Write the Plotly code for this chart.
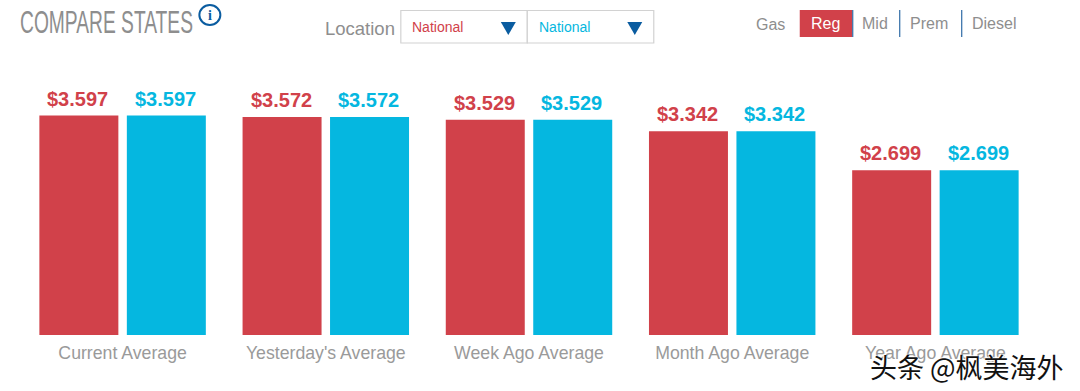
import plotly.graph_objects as go

categories = ["Current Average", "Yesterday's Average", "Week Ago Average", "Month Ago Average", "Year Ago Average"]
location_a = [3.597, 3.572, 3.529, 3.342, 2.699]
location_b = [3.597, 3.572, 3.529, 3.342, 2.699]
RED = "#D1414A"
BLUE = "#05B7E0"
GREY = "#9A9A9A"
W, H = 1080, 391
L, R, T, B = 20.6, 43.2, 60, 56
SANS = "Liberation Sans, Arial, sans-serif"


def px(x):
    return (x - L) / (W - L - R)


def py(y):
    return (H - B - y) / (H - B - T)


def text(x, y, s, size, color, anchor="left", family=SANS, **font_kw):
    return dict(xref="paper", yref="paper", x=px(x), y=py(y), text=s, showarrow=False,
                xanchor=anchor, yanchor="middle", align=anchor,
                font=dict(size=size, color=color, family=family, **font_kw))


def rect(x0, y0, x1, y1, line=None, fill=None, width=1):
    return dict(type="rect", xref="paper", yref="paper", x0=px(x0), x1=px(x1), y0=py(y0), y1=py(y1),
                line=dict(color=line, width=width if line else 0), fillcolor=fill)


def vline(x, y0, y1, color):
    return dict(type="line", xref="paper", yref="paper", x0=px(x), x1=px(x), y0=py(y0), y1=py(y1),
                line=dict(color=color, width=1.2))


def tri(x0, x1, y0, y1, color):
    xm = (x0 + x1) / 2
    return dict(type="path", xref="paper", yref="paper",
                path=f"M{px(x0)},{py(y0)} L{px(x1)},{py(y0)} L{px(xm)},{py(y1)} Z",
                fillcolor=color, line=dict(width=0))


fig = go.Figure()
for vals, color in ((location_a, RED), (location_b, BLUE)):
    fig.add_bar(x=categories, y=vals, marker=dict(color=color, line=dict(width=0)), hoverinfo="skip")

shapes = [
    rect(400.5, 10.5, 527, 43, line="#D2D2D2", fill="white", width=1.2),
    rect(527, 10.5, 653.5, 43, line="#D2D2D2", fill="white", width=1.2),
    tri(500.5, 515.5, 22, 35, "#0A5CA0"),
    tri(627, 642, 22, 35, "#0A5CA0"),
    rect(799.5, 10, 852, 37, fill=RED),
    vline(852.5, 10, 37, "#2F6BA5"),
    vline(899.5, 10, 37, "#2F6BA5"),
    vline(961.5, 10, 37, "#2F6BA5"),
    dict(type="circle", xref="paper", yref="paper", x0=px(199), x1=px(220), y0=py(25), y1=py(5),
         line=dict(color="#0A5CA0", width=2), fillcolor="rgba(255,255,255,0)"),
]
annotations = [
    text(18, 22, "COMPARE STATES", 31, "#8E8E8E"),
    text(209.5, 15, "i", 14, "#0A5CA0", "center", family="Liberation Serif, serif", weight="bold"),
    text(322.5, 29, "Location", 18.5, "#8E8E8E"),
    text(410, 27, "National", 14, RED),
    text(537, 27, "National", 14, BLUE),
    text(754, 24, "Gas", 16, "#8E8E8E"),
    text(825, 23.5, "Reg", 16, "white", "center"),
    text(860, 23.5, "Mid", 16, "#8E8E8E"),
    text(908, 23.5, "Prem", 16, "#8E8E8E"),
    text(970, 23.5, "Diesel", 16, "#8E8E8E"),
]
for vals, color, shift in ((location_a, RED, -44.75), (location_b, BLUE, 42.75)):
    for cat, v in zip(categories, vals):
        annotations.append(dict(xref="x", yref="y", x=cat, y=v, text=f"${v:.3f}", showarrow=False,
                                xshift=shift, yshift=4, yanchor="bottom", xanchor="center",
                                font=dict(size=20, color=color, family=SANS, weight="bold")))
annotations.append(text(868, 366, "头条 @枫美海外", 27, "#111111", family="Noto Sans CJK SC, sans-serif",
                        shadow="1px 1px 1px #ffffff, -1px -1px 1px #ffffff"))

fig.update_layout(
    width=W, height=H, autosize=False, barmode="group", bargap=0.139, bargroupgap=0.097,
    margin=dict(l=L, r=R, t=T, b=B), paper_bgcolor="white", plot_bgcolor="white",
    showlegend=False, shapes=shapes, annotations=annotations,
    xaxis=dict(showgrid=False, zeroline=False, showline=False, ticks="", type="category",
               tickfont=dict(size=17.7, color=GREY, family=SANS), automargin=False, ticklabelstandoff=5),
    yaxis=dict(range=[0, 275 / 61], visible=False, fixedrange=True),
)
post = """
document.body.style.margin='0';
document.querySelectorAll('.annotation-text').forEach(function(t){
  if(t.textContent==='COMPARE STATES'){
    t.setAttribute('textLength','173');t.setAttribute('lengthAdjust','spacingAndGlyphs');
  }
});
"""
fig.write_html("out.html", config=dict(displayModeBar=False), post_script=post)
